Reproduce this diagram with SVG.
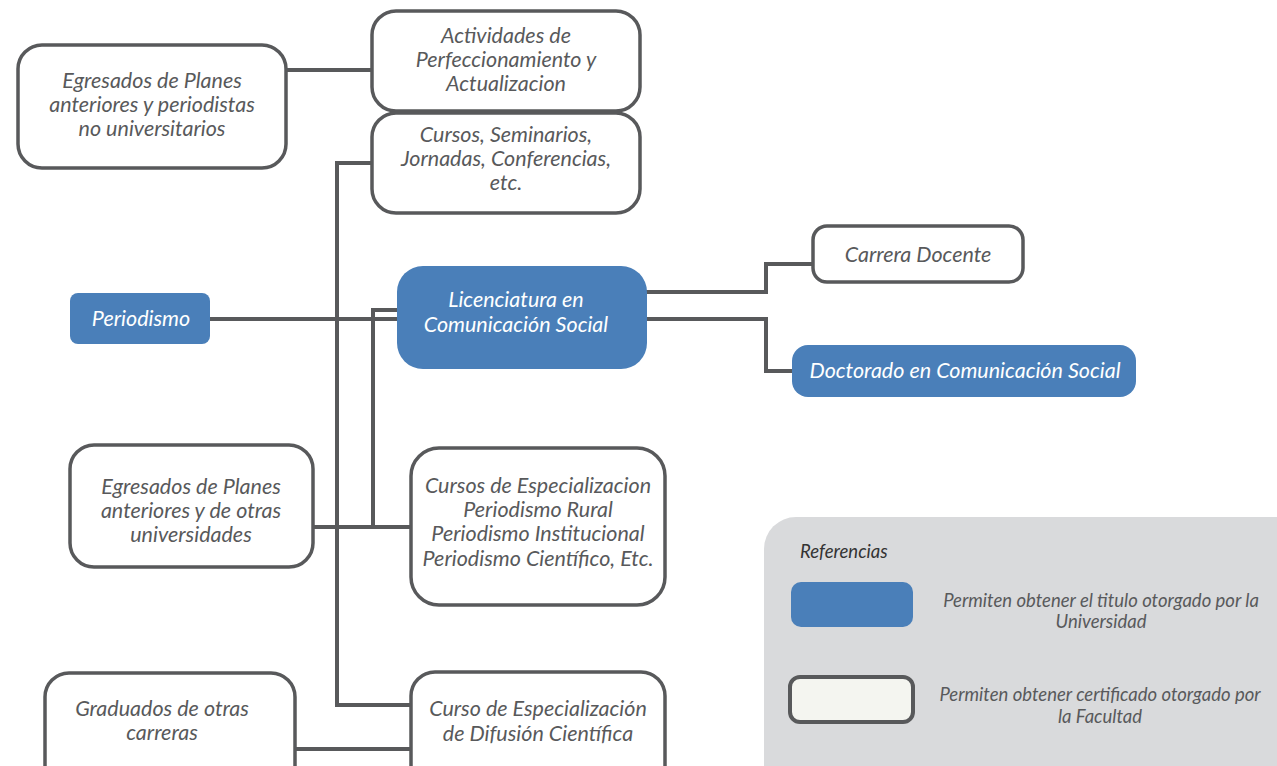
<svg xmlns="http://www.w3.org/2000/svg" width="1277" height="766" viewBox="0 0 1277 766">
<style>
.box{fill:#ffffff;stroke:#58595b;stroke-width:3.5}
.blue{fill:#4a7fb9}
.t{font-family:Lato,"Liberation Sans",sans-serif;font-style:italic;font-size:21.5px;fill:#58595b;text-anchor:middle}
.w{fill:#ffffff}
.c{fill:none;stroke:#58595b;stroke-width:4}
.lt{font-family:Lato,"Liberation Sans",sans-serif;font-style:italic;font-size:18.5px;fill:#58595b;text-anchor:middle}
</style>
<rect width="1277" height="766" fill="#ffffff"/>
<g id="connectors">
<path class="c" d="M286 70H372"/>
<path class="c" d="M372 163H337V705H411"/>
<path class="c" d="M210 319H397"/>
<path class="c" d="M397 310H373V527"/>
<path class="c" d="M313 527H411"/>
<path class="c" d="M295 749H411"/>
<path class="c" d="M640 292H766V264H813"/>
<path class="c" d="M647 319H766V371H792"/>
</g>
<g id="legend">
<rect x="764" y="517" width="560" height="300" rx="32" fill="#d9dadc"/>
<text class="lt" x="800" y="558" style="text-anchor:start;fill:#333333">Referencias</text>
<rect x="791" y="582" width="122" height="45" rx="10" class="blue"/>
<rect x="790" y="677" width="123" height="45" rx="10" fill="#f4f5f0" stroke="#58595b" stroke-width="4"/>
<text class="lt" x="1101" y="607">Permiten obtener el titulo otorgado por la</text>
<text class="lt" x="1101" y="628">Universidad</text>
<text class="lt" x="1100" y="701">Permiten obtener certificado otorgado por</text>
<text class="lt" x="1100" y="723">la Facultad</text>
</g>
<g id="egresados-periodistas">
<rect class="box" x="18" y="45" width="268" height="123" rx="24"/>
<text class="t" x="152" y="88">Egresados de Planes</text>
<text class="t" x="152" y="112">anteriores y periodistas</text>
<text class="t" x="152" y="136">no universitarios</text>
</g>
<g id="actividades">
<rect class="box" x="372" y="11" width="268" height="100" rx="24"/>
<text class="t" x="506" y="43">Actividades de</text>
<text class="t" x="506" y="67">Perfeccionamiento y</text>
<text class="t" x="506" y="91">Actualizacion</text>
</g>
<g id="cursos-seminarios">
<rect class="box" x="372" y="113" width="268" height="100" rx="24"/>
<text class="t" x="506" y="142">Cursos, Seminarios,</text>
<text class="t" x="506" y="166">Jornadas, Conferencias,</text>
<text class="t" x="506" y="190">etc.</text>
</g>
<g id="periodismo">
<rect class="blue" x="70" y="293" width="140" height="51" rx="8"/>
<text class="t w" x="141" y="326">Periodismo</text>
</g>
<g id="licenciatura">
<rect class="blue" x="397" y="266" width="250" height="103" rx="26"/>
<text class="t w" x="516" y="307">Licenciatura en</text>
<text class="t w" x="516" y="332">Comunicación Social</text>
</g>
<g id="carrera-docente">
<rect class="box" x="813" y="226" width="210" height="56" rx="14"/>
<text class="t" x="918" y="262">Carrera Docente</text>
</g>
<g id="doctorado">
<rect class="blue" x="792" y="345" width="344" height="52" rx="16"/>
<text class="t w" x="965" y="378">Doctorado en Comunicación Social</text>
</g>
<g id="egresados-universidades">
<rect class="box" x="70" y="445" width="243" height="122" rx="24"/>
<text class="t" x="191" y="494">Egresados de Planes</text>
<text class="t" x="191" y="518">anteriores y de otras</text>
<text class="t" x="191" y="542">universidades</text>
</g>
<g id="cursos-especializacion">
<rect class="box" x="411" y="448" width="254" height="157" rx="28"/>
<text class="t" x="538" y="493">Cursos de Especializacion</text>
<text class="t" x="538" y="517">Periodismo Rural</text>
<text class="t" x="538" y="541">Periodismo Institucional</text>
<text class="t" x="538" y="566">Periodismo Científico, Etc.</text>
</g>
<g id="graduados">
<rect class="box" x="45" y="673" width="250" height="120" rx="24"/>
<text class="t" x="162" y="716">Graduados de otras</text>
<text class="t" x="162" y="740">carreras</text>
</g>
<g id="curso-difusion">
<rect class="box" x="411" y="672" width="254" height="120" rx="24"/>
<text class="t" x="538" y="716">Curso de Especialización</text>
<text class="t" x="538" y="741">de Difusión Científica</text>
</g>
</svg>
